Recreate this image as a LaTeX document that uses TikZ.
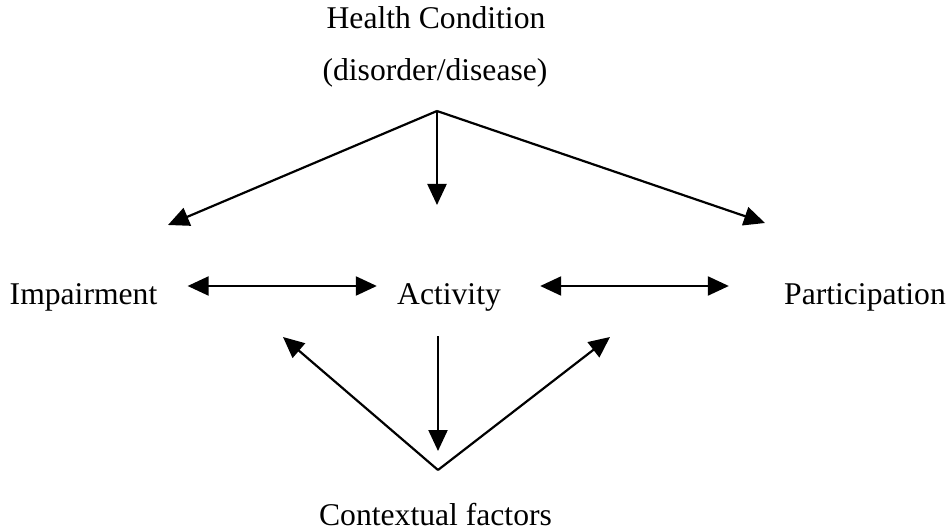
\documentclass[tikz,border=0pt]{standalone}
\usepackage{fontspec}
\setmainfont{Liberation Serif}
\usetikzlibrary{arrows.meta}

\begin{document}
\begin{tikzpicture}[
    lbl/.style={anchor=base, inner sep=0pt, font=\fontsize{18}{22}\selectfont},
    arw/.style={-{Triangle[length=0.42cm,width=0.38cm]}, line width=1.25pt},
    dbl/.style={{Triangle[length=0.42cm,width=0.38cm]}-{Triangle[length=0.42cm,width=0.38cm]}, line width=1.25pt}
]
\useasboundingbox (0,0) rectangle (19,10.62);
% labels
\node[lbl] (hc) at (8.72,10.04) {Health Condition};
\node[lbl] (dis) at (8.70,9.0) {(disorder/disease)};
\node[lbl] (imp) at (1.67,4.52) {Impairment};
\node[lbl] (act) at (8.98,4.52) {Activity};
\node[lbl] (par) at (17.30,4.52) {Participation};
\node[lbl] (ctx) at (8.71,0.12) {Contextual factors};

% fork points and free ends
\coordinate (top) at (8.74,8.40);
\coordinate (impin) at (3.36,6.12);
\coordinate (actin) at (8.74,6.52);
\coordinate (parin) at (15.30,6.16);
\coordinate (bot) at (8.76,1.22);
\coordinate (actout) at (8.76,3.90);
\coordinate (ctxin) at (8.76,1.60);
\coordinate (impup) at (5.66,3.88);
\coordinate (parup) at (12.20,3.88);

% health condition
\draw[arw] (top) -- (impin);
\draw[arw] (top) -- (actin);
\draw[arw] (top) -- (parin);

% middle row
\draw[dbl] ([shift={(0.6,0.38)}]imp.base east) -- ([shift={(-0.4,0.38)}]act.base west);
\draw[dbl] ([shift={(0.78,0.38)}]act.base east) -- ([shift={(-1.1,0.38)}]par.base west);

% contextual factors
\draw[arw] (actout) -- (ctxin);
\draw[arw] (bot) -- (impup);
\draw[arw] (bot) -- (parup);
\end{tikzpicture}
\end{document}
